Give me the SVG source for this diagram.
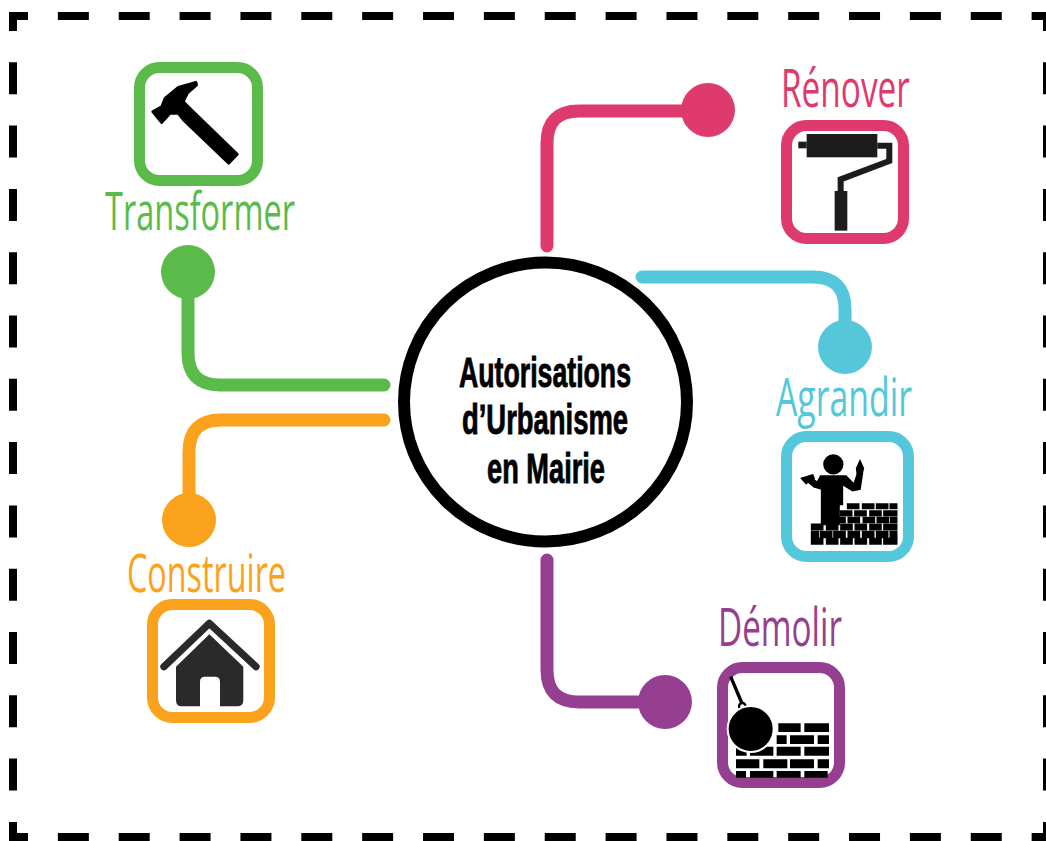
<svg xmlns="http://www.w3.org/2000/svg" width="1046" height="841" viewBox="0 0 1046 841">
<style>
.bh{fill:none;stroke:#000;stroke-width:8;stroke-dasharray:31 29.86;stroke-dashoffset:12}
.bv{fill:none;stroke:#000;stroke-width:8;stroke-dasharray:32 31.3;stroke-dashoffset:13}
.c{fill:none;stroke-width:13;stroke-linecap:round}
.box{fill:#fff;stroke-width:11}
.lbl{font-family:"Open Sans","Noto Sans",sans-serif;font-weight:400;font-size:53px}
.ctr{font-family:"Liberation Sans",Arial,sans-serif;font-weight:700;font-size:43px;fill:#000;stroke:#000;stroke-width:.9}
.g{fill:#5abb4a}.gs{stroke:#5abb4a}
.p{fill:#df3a6e}.ps{stroke:#df3a6e}
.y{fill:#55c7da}.ys{stroke:#55c7da}
.o{fill:#faa21b}.os{stroke:#faa21b}
.v{fill:#963f90}.vs{stroke:#963f90}
</style>
<defs><filter id="soft" x="-5%" y="-5%" width="110%" height="110%"><feGaussianBlur stdDeviation="1.6"/></filter></defs>
<rect width="1046" height="841" fill="#fff"/>
<g id="border">
<path class="bh" d="M9 16H1046"/>
<path class="bh" d="M9 837H1046"/>
<path class="bv" d="M13 12V841"/>
<path class="bv" d="M1047 12V841"/>
</g>
<g id="connectors">
<path class="c ps" d="M547 246V143Q547 111 579 111H708"/>
<path class="c ys" d="M642 277H813Q845 277 845 309V347"/>
<path class="c gs" d="M188 272V353Q188 385 220 385H384"/>
<path class="c os" d="M189 520V452Q189 420 221 420H384"/>
<path class="c vs" d="M547 560V670Q547 702 579 702H665"/>
<circle class="p" cx="708" cy="110" r="27"/>
<circle class="y" cx="845" cy="347" r="27"/>
<circle class="g" cx="188" cy="272" r="27"/>
<circle class="o" cx="189" cy="520" r="27"/>
<circle class="v" cx="665" cy="702" r="27"/>
</g>
<g id="center">
<ellipse cx="545.5" cy="402" rx="141.5" ry="139.5" fill="#fff" stroke="#000" stroke-width="12"/>
<text class="ctr" x="459" y="387" textLength="172" lengthAdjust="spacingAndGlyphs">Autorisations</text>
<text class="ctr" x="462" y="434" textLength="166" lengthAdjust="spacingAndGlyphs">d’Urbanisme</text>
<text class="ctr" x="487" y="483" textLength="118" lengthAdjust="spacingAndGlyphs">en Mairie</text>
</g>
<g id="transformer">
<rect class="box gs" x="139.5" y="67.5" width="118" height="113" rx="20"/>
<path transform="translate(100 50) scale(.3333)" filter="url(#soft)" fill="#000" stroke="#000" stroke-width="8" stroke-linejoin="round" d="M158 185L185 170L195 145L235 112L288 97L290 105L262 130L250 155L278 183L412 313L386 340L252 212L235 190L210 190L185 218Z"/>
<text class="lbl g" x="105" y="230" textLength="190" lengthAdjust="spacingAndGlyphs">Transformer</text>
</g>
<g id="renover">
<rect class="box ps" x="786.5" y="125.5" width="117" height="113" rx="20"/>
<g transform="translate(770 60) scale(.3333)" fill="#1d1d1b" filter="url(#soft)">
<rect x="110" y="222" width="212" height="70"/>
<rect x="85" y="245" width="25" height="20"/>
<path d="M322 257H358V303L212 358V395" fill="none" stroke="#1d1d1b" stroke-width="18"/>
<rect x="194" y="393" width="38" height="119"/>
</g>
<text class="lbl p" x="781" y="107" textLength="129" lengthAdjust="spacingAndGlyphs">Rénover</text>
</g>
<g id="agrandir">
<rect class="box ys" x="786.5" y="436.5" width="122" height="120" rx="20"/>
<g transform="translate(770 425) scale(.3333)" fill="#000" stroke="#000" stroke-width="5" filter="url(#soft)">
<circle cx="190" cy="118" r="28"/>
<path d="M152 153H228L252 178L263 145H277L270 192L248 197L217 178V238H207V298H155V192L132 185L112 168L125 160L142 172Z"/>
<path d="M95 160L128 150L132 160L108 175Z"/>
<path d="M270 108L280 130L276 146H262L260 130Z"/>
<g id="worker-bricks">
<path d="M233 237h33v13h-33zM278 237h33v13h-33zM320 237h33v13h-33zM361 237h19v13h-19z"/>
<path d="M212 258h33v14h-33zM255 258h33v14h-33zM300 258h33v14h-33zM342 258h38v14h-38z"/>
<path d="M192 278h33v14h-33zM235 278h33v14h-33zM280 278h33v14h-33zM322 278h33v14h-33zM362 278h18v14h-18z"/>
<path d="M125 298h33v16h-33zM170 298h33v16h-33zM213 298h33v16h-33zM256 298h33v16h-33zM300 298h33v16h-33zM342 298h38v16h-38z"/>
<path d="M125 320h20v17h-20zM152 320h33v17h-33zM192 320h33v17h-33zM235 320h33v17h-33zM278 320h33v17h-33zM320 320h33v17h-33zM361 320h19v17h-19z"/>
<path d="M125 341h33v16h-33zM170 341h33v16h-33zM213 341h33v16h-33zM256 341h33v16h-33zM300 341h33v16h-33zM342 341h38v16h-38z"/>
</g>
</g>
<text class="lbl y" x="776" y="416" textLength="136" lengthAdjust="spacingAndGlyphs">Agrandir</text>
</g>
<g id="demolir">
<rect class="box vs" x="722.5" y="667.5" width="117" height="115" rx="20"/>
<g transform="translate(710 655) scale(.3333)" fill="#000" filter="url(#soft)">
<path d="M205 205h67v26h-67zM283 205h74v26h-74z"/>
<path d="M200 241h30v26h-30zM240 241h72v26h-72zM323 241h34v26h-34z"/>
<path d="M78 275h32v27h-32zM120 275h70v27h-70zM200 275h72v27h-72zM283 275h74v27h-74z"/>
<path d="M78 313h70v27h-70zM160 313h72v27h-72zM240 313h72v27h-72zM323 313h34v27h-34z"/>
<path d="M78 348h30v20h-30zM120 348h70v20h-70zM200 348h72v20h-72zM283 348h70v20h-70z"/>
<path d="M62 65L98 150" fill="none" stroke="#000" stroke-width="10"/>
<circle cx="97" cy="154" r="10" fill="#fff" stroke="#000" stroke-width="7"/>
<circle cx="122" cy="222" r="69" stroke="#fff" stroke-width="6"/>
</g>
<text class="lbl v" x="718" y="646" textLength="124" lengthAdjust="spacingAndGlyphs">Démolir</text>
</g>
<g id="construire">
<rect class="box os" x="152.5" y="604.5" width="117" height="113" rx="20"/>
<g transform="translate(140 595) scale(.3333)" fill="#2b2b2b" filter="url(#soft)">
<path d="M72 215L208 85L348 215" fill="none" stroke="#2b2b2b" stroke-width="22" stroke-linecap="round" stroke-linejoin="round"/>
<path d="M108 215L208 118L310 215V315Q310 334 292 334H240V260Q240 245 225 245H195Q180 245 180 260V334H125Q108 334 108 315Z"/>
</g>
<text class="lbl o" x="127" y="592" textLength="159" lengthAdjust="spacingAndGlyphs">Construire</text>
</g>
</svg>
